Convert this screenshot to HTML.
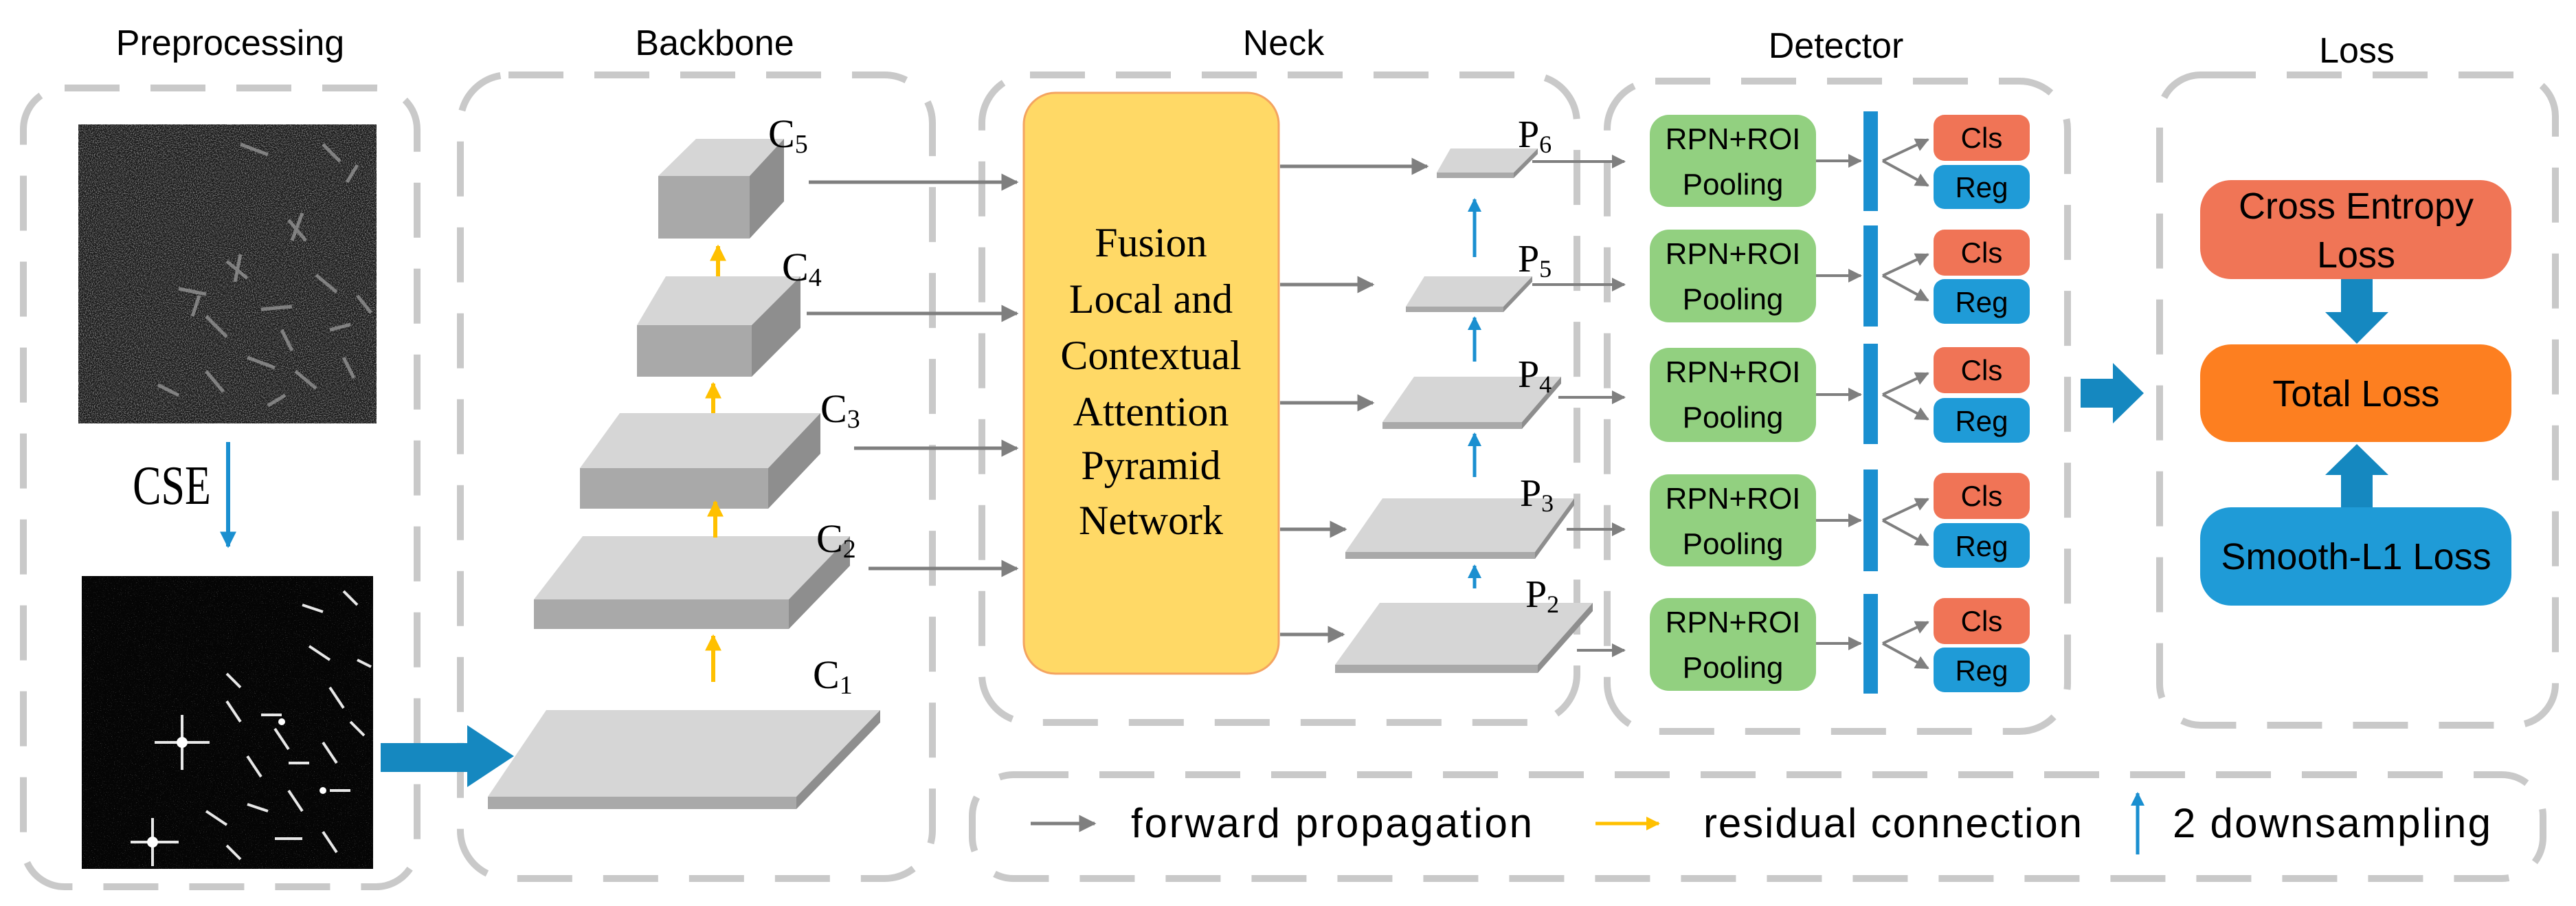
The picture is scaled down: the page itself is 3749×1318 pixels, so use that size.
<!DOCTYPE html>
<html><head><meta charset="utf-8"><style>
html,body{margin:0;padding:0;background:#fff;}
svg{display:block;}
.t{font-family:"Liberation Sans",sans-serif;fill:#000;}
.s{font-family:"Liberation Serif",serif;fill:#000;}
</style></head><body>
<svg width="3749" height="1318" viewBox="0 0 3749 1318" xmlns="http://www.w3.org/2000/svg">
<defs>
<marker id="ag" viewBox="0 0 10 10" refX="9" refY="5" markerWidth="5" markerHeight="5" orient="auto" markerUnits="strokeWidth"><path d="M0,0 L10,5 L0,10 z" fill="#7f7f7f"/></marker>
<marker id="ab" viewBox="0 0 10 10" refX="9" refY="5" markerWidth="4" markerHeight="4" orient="auto" markerUnits="strokeWidth"><path d="M0,0 L10,5 L0,10 z" fill="#1a8fd0"/></marker>
<marker id="ay" viewBox="0 0 10 10" refX="9" refY="5" markerWidth="4" markerHeight="4" orient="auto" markerUnits="strokeWidth"><path d="M0,0 L10,5 L0,10 z" fill="#ffc000"/></marker>
<filter id="nz" x="0" y="0" width="100%" height="100%"><feTurbulence type="fractalNoise" baseFrequency="0.7" numOctaves="2" seed="3"/><feColorMatrix type="matrix" values="0 0 0 0 0.35  0 0 0 0 0.35  0 0 0 0 0.35  0 0 0 2.2 -0.9"/></filter>
<filter id="nz2" x="0" y="0" width="100%" height="100%"><feTurbulence type="fractalNoise" baseFrequency="0.8" numOctaves="1" seed="7"/><feColorMatrix type="matrix" values="0 0 0 0 0.7  0 0 0 0 0.7  0 0 0 0 0.7  0 0 0 4 -2.6"/></filter>
</defs>

<g fill="none" stroke="#c9c9c9" stroke-width="10" stroke-dasharray="80 45">
<rect x="34" y="128" width="573" height="1162" rx="60"/>
<rect x="670" y="109" width="687" height="1169" rx="70"/>
<rect x="1429" y="109" width="866" height="942" rx="70"/>
<rect x="2339" y="118" width="670" height="946" rx="70"/>
<rect x="3143" y="109" width="576" height="946" rx="60"/>
<rect x="1415" y="1127" width="2286" height="151" rx="60"/>
</g>

<g class="t" font-size="52" text-anchor="middle">
<text x="335" y="80">Preprocessing</text>
<text x="1040" y="80">Backbone</text>
<text x="1868" y="80">Neck</text>
<text x="2672" y="84">Detector</text>
<text x="3430" y="91">Loss</text>
</g>

<rect x="114" y="181" width="434" height="435" fill="#161616"/>
<rect x="114" y="181" width="434" height="435" filter="url(#nz)"/>
<g stroke="#9a9a9a" stroke-width="5" opacity="0.75">
<path d="M330,380 l30,25 M350,370 l-8,40 M420,320 l25,30 M440,310 l-15,40 M260,420 l40,8 M300,460 l30,30 M380,450 l45,-4 M460,400 l30,25 M480,480 l30,-8 M300,540 l25,30 M360,520 l40,15 M430,540 l30,25 M500,520 l15,30 M230,560 l30,15 M390,590 l25,-15 M470,210 l25,25 M520,240 l-15,25 M350,210 l40,15 M290,430 l-10,30 M410,480 l15,30 M520,430 l20,25"/>
</g>
<rect x="119" y="838" width="424" height="426" fill="#050505"/>
<rect x="119" y="838" width="424" height="426" filter="url(#nz2)" opacity="0.6"/>
<g stroke="#e8e8e8" stroke-width="4">
<path d="M265,1040 l0,80 M225,1080 l80,0 M222,1190 l0,70 M190,1225 l70,0 M330,1020 l20,30 M380,1040 l30,0 M400,1060 l20,30 M330,980 l20,20 M450,940 l30,20 M480,1000 l20,30 M360,1100 l20,30 M420,1110 l30,0 M470,1080 l20,30 M300,1180 l30,20 M360,1170 l30,10 M420,1150 l20,30 M480,1150 l30,0 M330,1230 l20,20 M400,1220 l40,0 M470,1210 l20,30 M500,860 l20,20 M440,880 l30,10 M520,960 l20,10 M510,1050 l20,20"/>
</g>
<g fill="#fff"><circle cx="265" cy="1080" r="8"/><circle cx="222" cy="1225" r="8"/><circle cx="410" cy="1050" r="5"/><circle cx="470" cy="1150" r="5"/></g>

<line x1="332" y1="643" x2="332" y2="795" stroke="#1a8fd0" stroke-width="6" marker-end="url(#ab)"/>
<text class="s" x="250" y="733" font-size="62" text-anchor="middle" transform="translate(0,-220) scale(1,1.3)">CSE</text>

<path d="M554,1081 L680,1081 L680,1055 L748,1100 L680,1145 L680,1123 L554,1123 z" fill="#1588c0"/>
<path d="M3028,551 L3075,551 L3075,528 L3120,572 L3075,616 L3075,593 L3028,593 z" fill="#1588c0"/>

<g stroke="none">
<polygon points="710,1159 1159,1159 1281,1033 795,1033" fill="#d6d6d6"/>
<rect x="710" y="1159" width="449" height="18" fill="#a9a9a9"/>
<polygon points="1159,1159 1281,1033 1281,1051 1159,1177" fill="#8e8e8e"/>
<polygon points="777,872 1148,872 1237,780 848,780" fill="#d6d6d6"/>
<rect x="777" y="872" width="371" height="43" fill="#a9a9a9"/>
<polygon points="1148,872 1237,780 1237,823 1148,915" fill="#8e8e8e"/>
<polygon points="844,681 1118,681 1194,601 902,601" fill="#d6d6d6"/>
<rect x="844" y="681" width="274" height="59" fill="#a9a9a9"/>
<polygon points="1118,681 1194,601 1194,660 1118,740" fill="#8e8e8e"/>
<polygon points="927,473 1094,473 1165,402 969,402" fill="#d6d6d6"/>
<rect x="927" y="473" width="167" height="75" fill="#a9a9a9"/>
<polygon points="1094,473 1165,402 1165,477 1094,548" fill="#8e8e8e"/>
<polygon points="958,256 1091,256 1141,202 1013,202" fill="#d6d6d6"/>
<rect x="958" y="256" width="133" height="91" fill="#a9a9a9"/>
<polygon points="1091,256 1141,202 1141,293 1091,347" fill="#8e8e8e"/>
</g>
<g stroke="#ffc000" stroke-width="6">
<line x1="1045" y1="402" x2="1045" y2="358" marker-end="url(#ay)"/>
<line x1="1038" y1="601" x2="1038" y2="558" marker-end="url(#ay)"/>
<line x1="1041" y1="782" x2="1041" y2="730" marker-end="url(#ay)"/>
<line x1="1038" y1="992" x2="1038" y2="925" marker-end="url(#ay)"/>
</g>
<g class="s" font-size="58">
<text x="1118" y="214">C<tspan font-size="38" dy="8">5</tspan></text>
<text x="1138" y="408">C<tspan font-size="38" dy="8">4</tspan></text>
<text x="1194" y="614">C<tspan font-size="38" dy="8">3</tspan></text>
<text x="1188" y="803">C<tspan font-size="38" dy="8">2</tspan></text>
<text x="1183" y="1001">C<tspan font-size="38" dy="8">1</tspan></text>
</g>

<g stroke="#7f7f7f" stroke-width="5" fill="none">
<line x1="1177" y1="265" x2="1480" y2="265" marker-end="url(#ag)"/>
<line x1="1174" y1="456" x2="1480" y2="456" marker-end="url(#ag)"/>
<line x1="1243" y1="652" x2="1480" y2="652" marker-end="url(#ag)"/>
<line x1="1264" y1="827" x2="1480" y2="827" marker-end="url(#ag)"/>
</g>

<rect x="1490" y="135" width="371" height="845" rx="46" fill="#ffd966" stroke="#f4a460" stroke-width="3"/>
<g class="s" font-size="60" text-anchor="middle">
<text x="1675" y="373">Fusion</text>
<text x="1675" y="455">Local and</text>
<text x="1675" y="537">Contextual</text>
<text x="1675" y="619">Attention</text>
<text x="1675" y="697">Pyramid</text>
<text x="1675" y="777">Network</text>
</g>
<g stroke="#7f7f7f" stroke-width="5">
<line x1="1863" y1="242" x2="2077" y2="242" marker-end="url(#ag)"/>
<line x1="1863" y1="414" x2="1998" y2="414" marker-end="url(#ag)"/>
<line x1="1863" y1="586" x2="1998" y2="586" marker-end="url(#ag)"/>
<line x1="1863" y1="770" x2="1958" y2="770" marker-end="url(#ag)"/>
<line x1="1863" y1="923" x2="1955" y2="923" marker-end="url(#ag)"/>
</g>

<g>
<polygon points="2091,251 2203,251 2238,216 2111,216" fill="#d6d6d6"/>
<rect x="2091" y="251" width="112" height="8" fill="#a9a9a9"/>
<polygon points="2203,251 2238,216 2238,224 2203,259" fill="#8e8e8e"/>
<polygon points="2046,446 2188,446 2230,402 2073,402" fill="#d6d6d6"/>
<rect x="2046" y="446" width="142" height="8" fill="#a9a9a9"/>
<polygon points="2188,446 2230,402 2230,410 2188,454" fill="#8e8e8e"/>
<polygon points="2012,614 2215,614 2272,548 2058,548" fill="#d6d6d6"/>
<rect x="2012" y="614" width="203" height="10" fill="#a9a9a9"/>
<polygon points="2215,614 2272,548 2272,558 2215,624" fill="#8e8e8e"/>
<polygon points="1958,803 2234,803 2291,725 2012,725" fill="#d6d6d6"/>
<rect x="1958" y="803" width="276" height="10" fill="#a9a9a9"/>
<polygon points="2234,803 2291,725 2291,735 2234,813" fill="#8e8e8e"/>
<polygon points="1943,967 2238,967 2318,877 2008,877" fill="#d6d6d6"/>
<rect x="1943" y="967" width="295" height="12" fill="#a9a9a9"/>
<polygon points="2238,967 2318,877 2318,889 2238,979" fill="#8e8e8e"/>
</g>
<g stroke="#1a8fd0" stroke-width="5">
<line x1="2146" y1="374" x2="2146" y2="290" marker-end="url(#ab)"/>
<line x1="2146" y1="526" x2="2146" y2="462" marker-end="url(#ab)"/>
<line x1="2146" y1="694" x2="2146" y2="631" marker-end="url(#ab)"/>
<line x1="2146" y1="856" x2="2146" y2="823" marker-end="url(#ab)"/>
</g>
<g class="s" font-size="56">
<text x="2209" y="214">P<tspan font-size="36" dy="8">6</tspan></text>
<text x="2209" y="395">P<tspan font-size="36" dy="8">5</tspan></text>
<text x="2209" y="563">P<tspan font-size="36" dy="8">4</tspan></text>
<text x="2212" y="736">P<tspan font-size="36" dy="8">3</tspan></text>
<text x="2220" y="883">P<tspan font-size="36" dy="8">2</tspan></text>
</g>
<g stroke="#7f7f7f" stroke-width="4">
<line x1="2230" y1="235" x2="2364" y2="235" marker-end="url(#ag)"/>
<line x1="2230" y1="414" x2="2364" y2="414" marker-end="url(#ag)"/>
<line x1="2268" y1="578" x2="2364" y2="578" marker-end="url(#ag)"/>
<line x1="2280" y1="770" x2="2364" y2="770" marker-end="url(#ag)"/>
<line x1="2295" y1="946" x2="2364" y2="946" marker-end="url(#ag)"/>
</g>

<g>
<rect x="2401" y="167" width="242" height="134" rx="28" fill="#92d080"/>
<rect x="2401" y="334" width="242" height="135" rx="28" fill="#92d080"/>
<rect x="2401" y="506" width="242" height="137" rx="28" fill="#92d080"/>
<rect x="2401" y="690" width="242" height="134" rx="28" fill="#92d080"/>
<rect x="2401" y="870" width="242" height="135" rx="28" fill="#92d080"/>
</g>
<g class="t" font-size="44" text-anchor="middle">
<text x="2522" y="217">RPN+ROI</text><text x="2522" y="283">Pooling</text>
<text x="2522" y="384">RPN+ROI</text><text x="2522" y="450">Pooling</text>
<text x="2522" y="556">RPN+ROI</text><text x="2522" y="622">Pooling</text>
<text x="2522" y="740">RPN+ROI</text><text x="2522" y="806">Pooling</text>
<text x="2522" y="920">RPN+ROI</text><text x="2522" y="986">Pooling</text>
</g>
<g fill="#1a8fd0">
<rect x="2712" y="162" width="21" height="145"/>
<rect x="2712" y="328" width="21" height="147"/>
<rect x="2712" y="500" width="21" height="146"/>
<rect x="2712" y="683" width="21" height="148"/>
<rect x="2712" y="864" width="21" height="145"/>
</g>
<g stroke="#7f7f7f" stroke-width="4">
<line x1="2643" y1="234" x2="2708" y2="234" marker-end="url(#ag)"/>
<line x1="2643" y1="401" x2="2708" y2="401" marker-end="url(#ag)"/>
<line x1="2643" y1="574" x2="2708" y2="574" marker-end="url(#ag)"/>
<line x1="2643" y1="757" x2="2708" y2="757" marker-end="url(#ag)"/>
<line x1="2643" y1="936" x2="2708" y2="936" marker-end="url(#ag)"/>
<line x1="2740" y1="234" x2="2806" y2="203" marker-end="url(#ag)"/>
<line x1="2740" y1="234" x2="2806" y2="270" marker-end="url(#ag)"/>
<line x1="2740" y1="401" x2="2806" y2="370" marker-end="url(#ag)"/>
<line x1="2740" y1="401" x2="2806" y2="437" marker-end="url(#ag)"/>
<line x1="2740" y1="574" x2="2806" y2="543" marker-end="url(#ag)"/>
<line x1="2740" y1="574" x2="2806" y2="610" marker-end="url(#ag)"/>
<line x1="2740" y1="757" x2="2806" y2="726" marker-end="url(#ag)"/>
<line x1="2740" y1="757" x2="2806" y2="793" marker-end="url(#ag)"/>
<line x1="2740" y1="936" x2="2806" y2="905" marker-end="url(#ag)"/>
<line x1="2740" y1="936" x2="2806" y2="972" marker-end="url(#ag)"/>
</g>
<g>
<rect x="2814" y="167" width="140" height="67" rx="16" fill="#f07456"/>
<rect x="2814" y="240" width="140" height="64" rx="16" fill="#1f9bd7"/>
<rect x="2814" y="334" width="140" height="67" rx="16" fill="#f07456"/>
<rect x="2814" y="406" width="140" height="65" rx="16" fill="#1f9bd7"/>
<rect x="2814" y="505" width="140" height="67" rx="16" fill="#f07456"/>
<rect x="2814" y="579" width="140" height="65" rx="16" fill="#1f9bd7"/>
<rect x="2814" y="688" width="140" height="67" rx="16" fill="#f07456"/>
<rect x="2814" y="761" width="140" height="65" rx="16" fill="#1f9bd7"/>
<rect x="2814" y="870" width="140" height="67" rx="16" fill="#f07456"/>
<rect x="2814" y="942" width="140" height="65" rx="16" fill="#1f9bd7"/>
</g>
<g class="t" font-size="42" text-anchor="middle">
<text x="2884" y="215">Cls</text><text x="2884" y="287">Reg</text>
<text x="2884" y="382">Cls</text><text x="2884" y="454">Reg</text>
<text x="2884" y="553">Cls</text><text x="2884" y="627">Reg</text>
<text x="2884" y="736">Cls</text><text x="2884" y="809">Reg</text>
<text x="2884" y="918">Cls</text><text x="2884" y="990">Reg</text>
</g>

<rect x="3202" y="262" width="453" height="144" rx="45" fill="#f07556"/>
<rect x="3202" y="501" width="453" height="142" rx="45" fill="#fd7f20"/>
<rect x="3202" y="738" width="453" height="143" rx="45" fill="#1f9bd7"/>
<g class="t" font-size="54" text-anchor="middle">
<text x="3429" y="318">Cross Entropy</text>
<text x="3429" y="389">Loss</text>
<text x="3429" y="591">Total Loss</text>
<text x="3429" y="828">Smooth-L1 Loss</text>
</g>
<path d="M3407,406 L3453,406 L3453,454 L3476,454 L3430,500 L3384,454 L3407,454 z" fill="#1588c0"/>
<path d="M3407,738 L3453,738 L3453,691 L3476,691 L3430,646 L3384,691 L3407,691 z" fill="#1588c0"/>

<line x1="1500" y1="1198" x2="1593" y2="1198" stroke="#7f7f7f" stroke-width="5" marker-end="url(#ag)"/>
<line x1="2322" y1="1198" x2="2414" y2="1198" stroke="#ffc000" stroke-width="5" marker-end="url(#ay)"/>
<line x1="3111" y1="1243" x2="3111" y2="1154" stroke="#1a8fd0" stroke-width="5" marker-end="url(#ab)"/>
<g class="t" font-size="60">
<text x="1646" y="1218" textLength="584">forward propagation</text>
<text x="2479" y="1218" textLength="551">residual connection</text>
<text x="3162" y="1218" textLength="463">2 downsampling</text>
</g>
</svg>
</body></html>
